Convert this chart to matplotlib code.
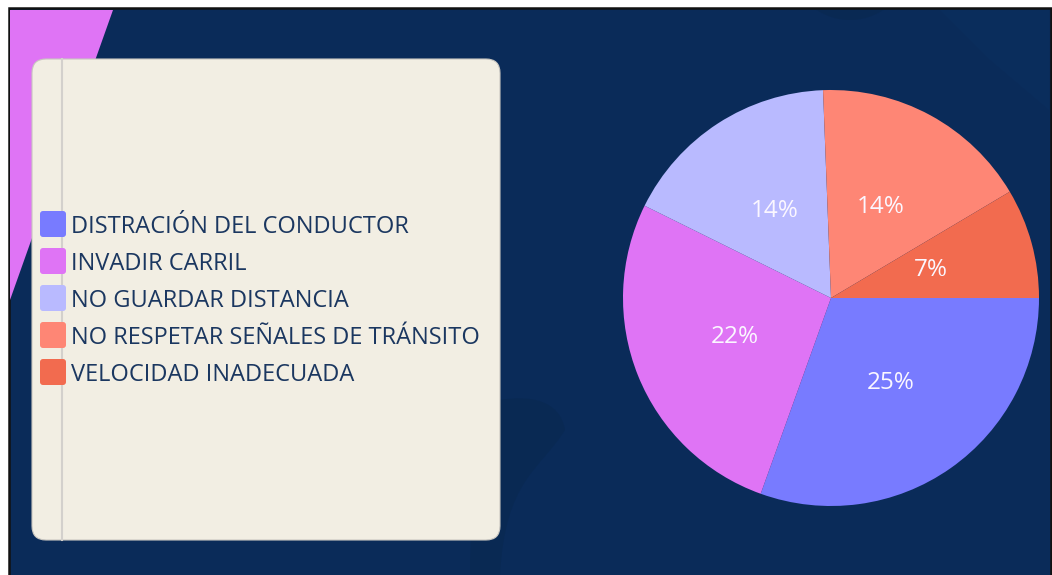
import matplotlib
matplotlib.use("Agg")
import matplotlib.pyplot as plt
from matplotlib.patches import Rectangle, FancyBboxPatch, Polygon, Circle, PathPatch
from matplotlib.path import Path

plt.rcParams['font.family'] = ['Open Sans', 'DejaVu Sans']

categories = ["DISTRACIÓN DEL CONDUCTOR", "INVADIR CARRIL", "NO GUARDAR DISTANCIA",
              "NO RESPETAR SEÑALES DE TRÁNSITO", "VELOCIDAD INADECUADA"]
values = [25, 22, 14, 14, 7]
pct_labels = ["25%", "22%", "14%", "14%", "7%"]
colors = ["#787bff", "#df74f5", "#b9baff", "#fe8675", "#f26b4f"]

W, H = 1052, 575
BG = "#0a2b59"
DARK = "#092953"
fig = plt.figure(figsize=(W / 100, H / 100), dpi=100, facecolor="white")

# full-figure pixel axes for decoration
bg = fig.add_axes([0, 0, 1, 1])
bg.set_xlim(0, W)
bg.set_ylim(H, 0)
bg.axis("off")

frame = Rectangle((9, 8), 1042, 570, facecolor=BG, edgecolor="#111111", lw=1.8, zorder=0)
bg.add_patch(frame)
# subtle darker background shapes
c = Circle((850, -40), 60, facecolor=DARK, edgecolor="none", zorder=0.5)
bg.add_patch(c)
c.set_clip_path(Rectangle((10, 10), 1040, 565, transform=bg.transData))
verts = [(940, 10), (990, 60), (1049, 110), (1049, 10), (940, 10)]
bg.add_patch(Polygon(verts, closed=True, facecolor="#0a2d5c", edgecolor="none", zorder=0.5))
p = Path([(500, 575), (505, 480), (540, 470), (565, 430), (560, 400), (530, 395), (500, 400),
          (480, 420), (470, 500), (470, 575), (500, 575)],
         [Path.MOVETO, Path.CURVE4, Path.CURVE4, Path.CURVE4, Path.CURVE4, Path.CURVE4, Path.CURVE4,
          Path.CURVE4, Path.CURVE4, Path.CURVE4, Path.CLOSEPOLY])
bg.add_patch(PathPatch(p, facecolor=DARK, edgecolor="none", zorder=0.5))
# pink triangle
bg.add_patch(Polygon([(10, 10), (113, 10), (10, 300)], closed=True,
                     facecolor="#df74f5", edgecolor="none", zorder=1))
# legend card
bg.add_patch(FancyBboxPatch((32 + 14, 59 + 14), 468 - 28, 481 - 28,
                            boxstyle="round,pad=14", facecolor="#f2eee3",
                            edgecolor="#c9c6c0", lw=0.8, zorder=2))
bg.plot([61.5, 61.5], [59, 540], color="#d3d0cc", lw=1.5, zorder=3)

# legend entries
y0, dy = 224, 37
for i, (cat, col) in enumerate(zip(categories, colors)):
    y = y0 + i * dy
    bg.add_patch(FancyBboxPatch((40 + 3, y - 13 + 3), 26 - 6, 26 - 6,
                                boxstyle="round,pad=3", facecolor=col, edgecolor="none", zorder=4))
    bg.text(71, y + 3, cat, fontsize=17, color="#1b3760", va="center", ha="left", zorder=5)

# pie
cx, cy, r = 831, 298, 208
pax = fig.add_axes([(cx - r) / W, (H - cy - r) / H, 2 * r / W, 2 * r / H])
wedges, texts = pax.pie(values, colors=colors, startangle=0, counterclock=False,
                        labels=pct_labels, labeldistance=0.5,
                        wedgeprops=dict(linewidth=0),
                        textprops=dict(color="#fbf7ff", fontsize=17.5, ha="center", va="center"))
pax.set_xlim(-1, 1)
pax.set_ylim(-1, 1)
pax.set_aspect("auto")
pax.axis("off")

fig.savefig("out.png", dpi=100, facecolor="white")
